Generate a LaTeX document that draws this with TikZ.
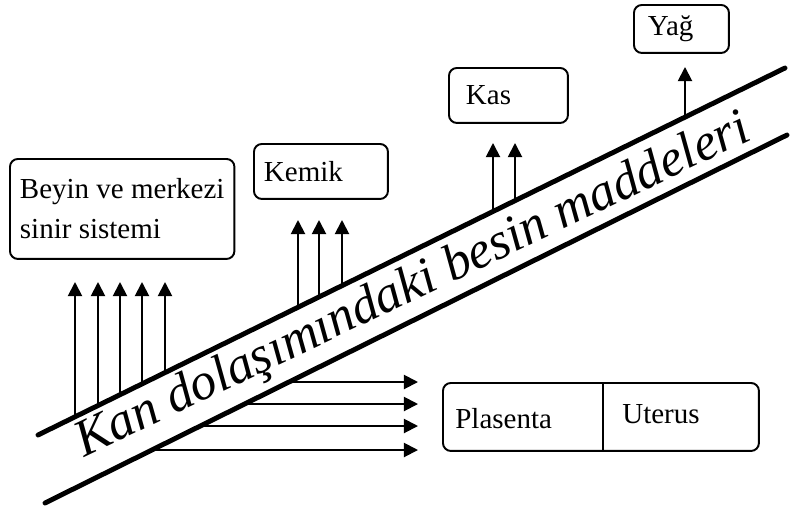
\documentclass[tikz,border=0pt]{standalone}
\usepackage{fontspec}
\setmainfont{Liberation Serif}
\usetikzlibrary{arrows.meta,calc}

\tikzset{
  organ/.style={draw, line width=1.1pt, rounded corners=4.5pt, anchor=north west,
    align=left, inner xsep=0.2cm, font=\fontsize{16.5}{22.7}\selectfont},
  metin/.style={inner sep=0pt, anchor=base west, font=\fontsize{16.5}{22.7}\selectfont},
  yol/.style={line width=2.8pt, line cap=round},
  ok/.style={-{Triangle[length=8pt,width=8pt]}, line width=1.1pt},
}

\begin{document}
\begin{tikzpicture}[x=0.02cm, y=-0.02cm]
    \useasboundingbox (0,0) rectangle (790,511);

    % 血流两条线
    \coordinate (ua) at (38,435);
    \coordinate (ub) at (785,68);
    \coordinate (la) at (45,503);
    \coordinate (lb) at (787,135);
    \draw[yol] (ua) -- (ub);
    \draw[yol] (la) -- (lb);
    \node[rotate=25.5, anchor=base west, inner sep=0pt,
          font=\fontsize{29.6}{30}\selectfont\itshape] (kan) at (84,458)
          {Kan dolaşımındaki besin maddeleri};

    % 器官方框
    \node[organ, minimum width=4.46cm, minimum height=2cm] (beyin) at (9,158)
        {Beyin ve merkezi\\sinir sistemi};
    \node[organ, minimum width=2.68cm, minimum height=1.1cm, text width=2.28cm] (kemik) at (253,143) {Kemik};
    \node[organ, minimum width=2.38cm, minimum height=1.1cm, inner xsep=0.34cm, text width=1.7cm] (kas) at (448,67) {Kas};
    \node[organ, minimum width=1.9cm, minimum height=0.96cm, inner xsep=0.28cm, text width=1.34cm] (yag) at (633,4) {Yağ};

    % 胎盘和子宫
    \node[organ, minimum width=6.32cm, minimum height=1.36cm] (dolut) at (442,382) {};
    \draw[line width=1.1pt] (603,382) -- (603,450);
    \node[metin] (plasenta) at (455,428) {Plasenta};
    \node[metin] (uterus) at (622,423) {Uterus};

    % 向上的箭头
    \foreach \x/\t in {75/282,98/282,120/282,142/282,165/282,
                       298/220,319/220,342/220,493/143,515/143,685/67} {
        \coordinate (s\x) at ($(ua)!{(\x-38)/747}!(ub)$);
        \coordinate (t\x) at (\x,\t);
        \draw[ok] (s\x) -- (t\x);
    }

    % 向右的箭头
    \foreach \y in {382,404,426,450} {
        \coordinate (h\y) at ($(la)!{(503-\y)/368}!(lb)$);
        \coordinate (e\y) at (418,\y);
        \draw[ok] (h\y) -- (e\y);
    }
\end{tikzpicture}
\end{document}
